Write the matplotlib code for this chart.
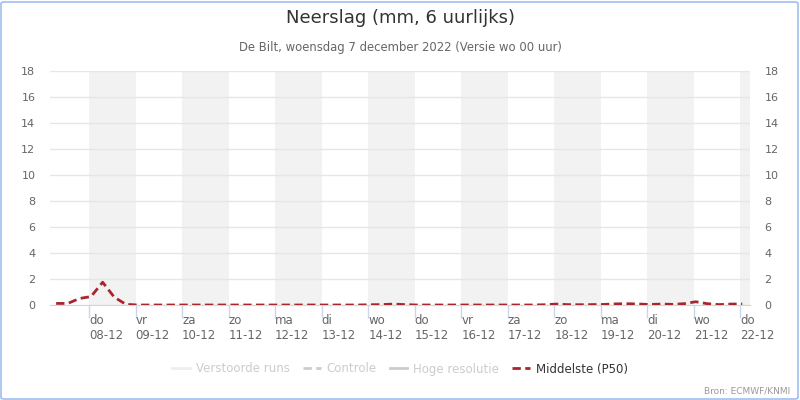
import matplotlib
matplotlib.use("Agg")
import matplotlib.pyplot as plt
import matplotlib.dates as mdates
from matplotlib.lines import Line2D
from matplotlib.patches import FancyBboxPatch
import numpy as np
import pandas as pd

# ---- data ----
times = pd.date_range("2022-12-07 07:00", periods=60, freq="6h")
p50 = [0.12, 0.12, 0.50, 0.65, 1.75, 0.60, 0.05, 0.0,
       0.0, 0.0, 0.0, 0.0, 0.0, 0.0, 0.0, 0.0,
       0.0, 0.0, 0.0, 0.0, 0.0, 0.0, 0.0, 0.0,
       0.0, 0.0, 0.0, 0.02, 0.03, 0.07, 0.03, 0.0,
       0.0, 0.0, 0.0, 0.0, 0.0, 0.0, 0.0, 0.0,
       0.0, 0.0, 0.02, 0.07, 0.03, 0.02, 0.03, 0.04,
       0.08, 0.10, 0.08, 0.04, 0.07, 0.05, 0.10, 0.25,
       0.10, 0.03, 0.07, 0.08]
day_ticks = pd.date_range("2022-12-08", "2022-12-22", freq="D")
day_names = ["do", "vr", "za", "zo", "ma", "di", "wo", "do", "vr", "za", "zo", "ma", "di", "wo", "do"]
day_dates = ["08-12", "09-12", "10-12", "11-12", "12-12", "13-12", "14-12", "15-12",
             "16-12", "17-12", "18-12", "19-12", "20-12", "21-12", "22-12"]
shaded_days = pd.date_range("2022-12-08", "2022-12-22", freq="2D")
x_start = pd.Timestamp("2022-12-07 03:50")
x_end = pd.Timestamp("2022-12-22 05:00")
y_ticks = [0, 2, 4, 6, 8, 10, 12, 14, 16, 18]

title = "Neerslag (mm, 6 uurlijks)"
subtitle = "De Bilt, woensdag 7 december 2022 (Versie wo 00 uur)"
legend_labels = ["Verstoorde runs", "Controle", "Hoge resolutie", "Middelste (P50)"]
source = "Bron: ECMWF/KNMI"

plt.rcParams['font.family'] = ['DejaVu Sans']

fig = plt.figure(figsize=(8, 4), dpi=100)
W, H = 800, 400
ax = fig.add_axes([50 / W, 1 - 305 / H, 700 / W, 234 / H])

for d in shaded_days:
    ax.axvspan(d, d + pd.Timedelta(days=1), color="#f2f2f2", lw=0, zorder=0)

for y in y_ticks:
    ax.axhline(y, color="#e6e6e6", lw=1, zorder=1)

ax.plot(times, p50, color="#a8262b", lw=2, ls=(0, (3, 1.6)), zorder=3)

ax.set_xlim(x_start, x_end)
ax.set_ylim(0, 18)
ax.set_yticks(y_ticks)
for s in ax.spines.values():
    s.set_visible(False)
ax.spines["bottom"].set_visible(True)
ax.spines["bottom"].set_color("#ccd6eb")
ax.spines["bottom"].set_zorder(2)

ax.tick_params(axis="y", left=False, right=False, labelleft=True, labelright=True,
               labelsize=8, labelcolor="#666666", pad=7)

ax.set_xticks(day_ticks)
ax.set_xticklabels([])
ax.tick_params(axis="x", length=9, color="#ccd6eb", width=1)
for t, n, dd in zip(day_ticks, day_names, day_dates):
    ax.annotate(f"{n}\n{dd}", xy=(mdates.date2num(t), 0), xycoords=("data", "axes fraction"),
                xytext=(0, -9), textcoords="offset pixels", ha="left", va="top",
                fontsize=8.5, color="#666666", linespacing=1.2)

fig.text(0.5, 1 - 18 / H, title, ha="center", va="center", fontsize=13, color="#333333")
fig.text(0.5, 1 - 47 / H, subtitle, ha="center", va="center", fontsize=8.4, color="#666666")

handles = [
    Line2D([], [], color="#eeeeee", lw=2),
    Line2D([], [], color="#cccccc", lw=2, ls=(0, (3, 1.6))),
    Line2D([], [], color="#cccccc", lw=2),
    Line2D([], [], color="#a8262b", lw=2, ls=(0, (3, 1.6))),
]
leg = fig.legend(handles, legend_labels, loc="center", bbox_to_anchor=(0.5, 1 - 369 / H),
                 ncol=4, frameon=False, fontsize=8.5, handlelength=1.5, handletextpad=0.5,
                 columnspacing=1.1)
for txt, c in zip(leg.get_texts(), ["#cccccc", "#cccccc", "#cccccc", "#333333"]):
    txt.set_color(c)

fig.text(1 - 10 / W, 1 - 391 / H, source, ha="right", va="center", fontsize=6.5, color="#999999")

border = FancyBboxPatch((1 / W, 1 / H), 797 / W, 397 / H, boxstyle="round,pad=0,rounding_size=0.004",
                        transform=fig.transFigure, fill=False, edgecolor="#9fbff0", lw=1.2)
fig.patches.append(border)

fig.savefig("out.png", dpi=100)
